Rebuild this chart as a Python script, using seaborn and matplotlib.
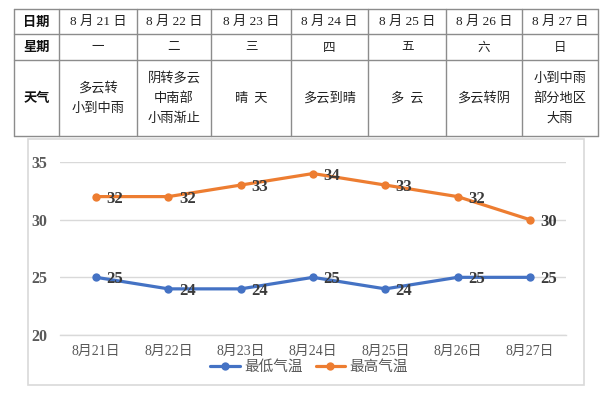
import numpy as np
import pandas as pd
import matplotlib
matplotlib.use("Agg")
import matplotlib.pyplot as plt
from matplotlib.lines import Line2D
from matplotlib.patches import Rectangle
from matplotlib.ticker import FixedLocator
import seaborn as sns

# ---------------- data ----------------
dates = ['8月21日', '8月22日', '8月23日', '8月24日', '8月25日', '8月26日', '8月27日']
table_dates = ['8 月 21 日', '8 月 22 日', '8 月 23 日', '8 月 24 日',
               '8 月 25 日', '8 月 26 日', '8 月 27 日']
weekdays = ['一', '二', '三', '四', '五', '六', '日']
weather = [['多云转', '小到中雨'],
           ['阴转多云', '中南部', '小雨渐止'],
           ['晴  天'],
           ['多云到晴'],
           ['多  云'],
           ['多云转阴'],
           ['小到中雨', '部分地区', '大雨']]
row_headers = ['日期', '星期', '天气']
low = [25, 24, 24, 25, 24, 25, 25]
high = [32, 32, 33, 34, 33, 32, 30]
series_names = ['最低气温', '最高气温']
yticks = [20, 25, 30, 35]

# ---------------- style ----------------
sns.set_theme(style='white')
plt.rcParams['font.family'] = ['Liberation Serif', 'Noto Sans CJK SC']
plt.rcParams['axes.unicode_minus'] = False

W, H = 607, 395
fig = plt.figure(figsize=(W / 100, H / 100), dpi=100)


def fx(x):
    return x / W


def fy(y):
    return 1 - y / H


# ---------------- table ----------------
col_x = [14, 59, 137, 211, 291, 368, 446, 522, 598]
row_y = [9, 34, 60, 136]
tcol = '#8c8c8c'
for x in col_x:
    fig.add_artist(Line2D([fx(x), fx(x)], [fy(row_y[0]), fy(row_y[-1])],
                          transform=fig.transFigure, color=tcol, lw=1.0))
for y in row_y:
    fig.add_artist(Line2D([fx(col_x[0]), fx(col_x[-1])], [fy(y), fy(y)],
                          transform=fig.transFigure, color=tcol, lw=1.0))

cn_fam = ['Liberation Serif', 'Noto Sans CJK SC']
for r, h in enumerate(row_headers):
    cy = (row_y[r] + row_y[r + 1]) / 2
    fig.text(fx((col_x[0] + col_x[1]) / 2), fy(cy), h, ha='center', va='center',
             fontsize=9.5, fontweight='bold', family=['Noto Sans CJK SC'], color='#111111')

for i in range(7):
    cx = fx((col_x[i + 1] + col_x[i + 2]) / 2)
    fig.text(cx, fy((row_y[0] + row_y[1]) / 2), table_dates[i], ha='center', va='center',
             fontsize=9.5, family=cn_fam, color='#222222')
    fig.text(cx, fy((row_y[1] + row_y[2]) / 2), weekdays[i], ha='center', va='center',
             fontsize=9, family=['Noto Sans CJK SC'], color='#222222')
    lines = weather[i]
    n = len(lines)
    mid = (row_y[2] + row_y[3]) / 2
    for k, t in enumerate(lines):
        yy = mid + (k - (n - 1) / 2) * 20
        fig.text(cx, fy(yy), t, ha='center', va='center', fontsize=9.5,
                 family=['Noto Sans CJK SC'], color='#222222')

# ---------------- chart box ----------------
fig.add_artist(Rectangle((fx(28), fy(385)), fx(584) - fx(28), fy(139) - fy(385),
                         transform=fig.transFigure, fill=False, edgecolor='#d9d9d9', lw=1.2))

# ---------------- line chart ----------------
ax = fig.add_axes([fx(60), fy(335), fx(566) - fx(60), fy(162) - fy(335)])

pos = np.arange(len(dates))
df = pd.DataFrame({
    'pos': np.concatenate([pos, pos]),
    'temp': low + high,
    'series': [series_names[0]] * len(dates) + [series_names[1]] * len(dates),
})
colors = ['#4472C4', '#ED7D31']
sns.lineplot(data=df, x='pos', y='temp', hue='series', hue_order=series_names,
             palette=colors, marker='o', markersize=6, markeredgewidth=0,
             linewidth=2.3, ax=ax, legend=True)

for vals in (low, high):
    for p, v in zip(pos, vals):
        ax.annotate(str(v), (p, v), xytext=(7.5, -1.5), textcoords='offset points',
                    ha='left', va='center', fontsize=12, fontweight='bold',
                    color='#3a3a3a', family=['Liberation Serif'])

ax.set_xlim(-0.5, len(dates) - 0.5)
ax.set_ylim(20, 35)
ax.set_yticks(yticks)
ax.set_yticklabels([str(t) for t in yticks], fontsize=11.5, fontweight='bold',
                   color='#595959', family=['Liberation Serif'])
ax.set_xticks(pos)
ax.set_xticklabels(dates, fontsize=10, color='#595959', family=cn_fam)
ax.xaxis.set_minor_locator(FixedLocator(np.arange(-0.5, len(dates), 1.0)))
ax.tick_params(axis='x', which='major', length=0, pad=7)
ax.tick_params(axis='x', which='minor', length=4, width=1, color='#d9d9d9', direction='out')
ax.tick_params(axis='y', length=0, pad=9)
ax.set_xlabel('')
ax.set_ylabel('')
ax.grid(axis='y', color='#d9d9d9', lw=1)
ax.set_axisbelow(True)
for s in ['left', 'right', 'top']:
    ax.spines[s].set_visible(False)
ax.spines['bottom'].set_color('#d9d9d9')
ax.spines['bottom'].set_linewidth(1)
ax.patch.set_alpha(0)

handles, labels = ax.get_legend_handles_labels()
ax.legend(handles, labels, loc='center', bbox_to_anchor=(fx(309), fy(367)),
          bbox_transform=fig.transFigure, ncol=2, frameon=False,
          prop={'family': ['Noto Sans CJK SC'], 'size': 10.5},
          labelcolor='#595959', handlelength=2.0, handletextpad=0.3,
          columnspacing=0.9, borderpad=0)

fig.savefig('out.png', dpi=100)
